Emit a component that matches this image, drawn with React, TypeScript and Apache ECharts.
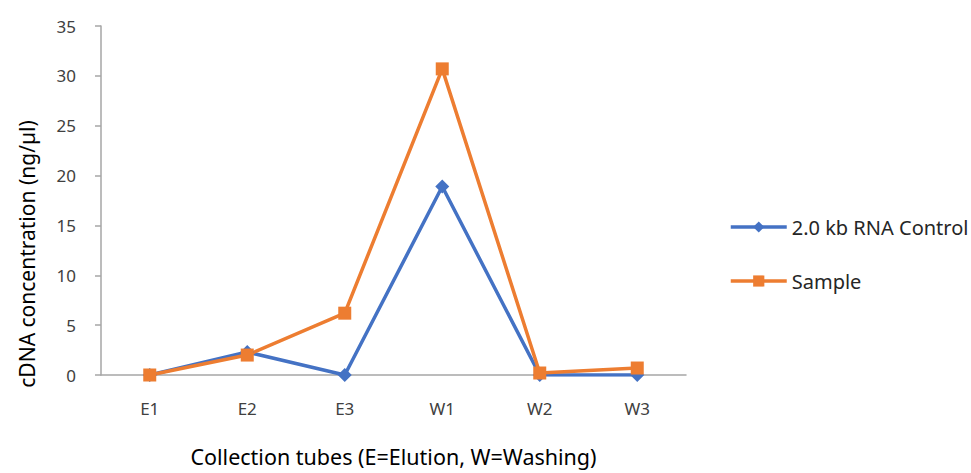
import React, { useEffect, useRef } from "react";
import * as echarts from "echarts";

const categories = ["E1", "E2", "E3", "W1", "W2", "W3"];
const controlValues = [0, 2.3, 0, 18.9, 0, 0];
const sampleValues = [0, 2.0, 6.2, 30.7, 0.2, 0.7];
const seriesNames = ["2.0 kb RNA Control", "Sample"];
const xTitle = "Collection tubes (E=Elution, W=Washing)";
const yTitle = "cDNA concentration (ng/µl)";

const FONT = "'Noto Sans', 'Open Sans', sans-serif";

export default function App() {
  const ref = useRef<HTMLDivElement>(null);
  useEffect(() => {
    const chart = echarts.init(ref.current!, null, { renderer: "svg" });
    chart.setOption({
      animation: false,
      textStyle: { fontFamily: FONT },
      grid: { left: 101, top: 26, right: 285, bottom: 98, outerBoundsMode: "none", containLabel: false },
      legend: {
        orient: "vertical",
        left: 724,
        top: 212,
        itemWidth: 56,
        itemHeight: 14,
        itemGap: 34,
        lineStyle: { width: 3.5 },
        textStyle: { fontSize: 20, color: "#262626", fontFamily: FONT },
        data: seriesNames,
      },
      graphic: [
        {
          type: "text",
          x: 27,
          y: 254,
          rotation: Math.PI / 2,
          style: {
            text: yTitle,
            fill: "#000",
            fontSize: 21,
            fontFamily: FONT,
            textAlign: "center",
            textVerticalAlign: "middle",
          },
        },
      ],
      xAxis: {
        type: "category",
        data: categories,
        boundaryGap: true,
        axisLine: { lineStyle: { color: "#A6A6A6", width: 1.5 } },
        axisTick: { show: false },
        axisLabel: { color: "#404040", fontSize: 17, margin: 25, fontFamily: FONT },
        name: xTitle,
        nameLocation: "middle",
        nameGap: 70,
        nameTextStyle: { color: "#000", fontSize: 21.5, fontFamily: FONT },
      },
      yAxis: {
        type: "value",
        min: 0,
        max: 35,
        interval: 5,
        splitLine: { show: false },
        axisLine: { show: true, lineStyle: { color: "#A6A6A6", width: 1.5 } },
        axisTick: { show: true, length: 6, lineStyle: { color: "#A6A6A6", width: 1.5 } },
        axisLabel: { color: "#404040", fontSize: 17, margin: 25, fontFamily: FONT },
      },
      series: [
        {
          name: seriesNames[0],
          type: "line",
          data: controlValues,
          symbol: "diamond",
          symbolSize: 14,
          lineStyle: { color: "#4472C4", width: 3.5 },
          itemStyle: { color: "#4472C4" },
        },
        {
          name: seriesNames[1],
          type: "line",
          data: sampleValues,
          symbol: "rect",
          symbolSize: 13,
          lineStyle: { color: "#ED7D31", width: 3.5 },
          itemStyle: { color: "#ED7D31" },
        },
      ],
    });
    return () => chart.dispose();
  }, []);
  return (
    <div
      ref={ref}
      style={{ position: "absolute", left: 0, top: 0, width: 971, height: 473, background: "#fff" }}
    />
  );
}
